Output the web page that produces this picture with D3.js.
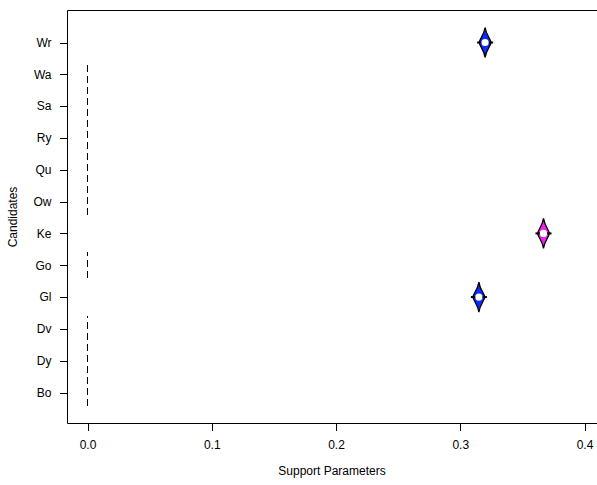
<!DOCTYPE html>
<html>
<head>
<meta charset="utf-8">
<script src="https://cdn.jsdelivr.net/npm/d3@7"></script>
<style>
body{margin:0;background:#fff;}
text{font-family:"Liberation Sans",Arial,Helvetica,sans-serif;}
</style>
</head>
<body>
<script>
// candidates from bottom to top
var candidates = ["Bo","Dy","Dv","Gl","Go","Ke","Ow","Qu","Ry","Sa","Wa","Wr"]
var support = [0,0,0,0.315,0,0.367,0,0,0,0,0,0.320]
var groupColor = ["none","none","none","blue","none","magenta","none","none","none","none","none","blue"]
var xTicks = [0,0.1,0.2,0.3,0.4]

var width = 597, height = 485
var svg = d3.select("body").append("svg")
	.attr("width", width)
	.attr("height", height)

var x = d3.scaleLinear().domain([0,0.4]).range([87.5,584.5])
var y = d3.scalePoint().domain(candidates).range([392.5,42.5])
var step = y.step()
var colors = {blue:"#0a2dff", magenta:"#ee22ee"}

// frame (right side runs off the page)
svg.append("path")
	.attr("d","M599,10.5 H67.5 V423.5 H599")
	.attr("fill","none")
	.attr("stroke","#000")
	.attr("stroke-width",1)

// x axis
var xAxis = svg.append("g")
	.attr("transform","translate(0,423.5)")
	.call(d3.axisBottom(x).tickValues(xTicks).tickFormat(d3.format(".1f")).tickSizeOuter(0).tickSizeInner(7).tickPadding(10))
xAxis.select(".domain").remove()
xAxis.selectAll("text").attr("font-size","12px").attr("fill","#000").attr("font-family","Liberation Sans, Arial, sans-serif")
xAxis.selectAll("line").attr("shape-rendering","crispEdges")

// y axis
var yAxis = svg.append("g")
	.attr("transform","translate(67.5,0)")
	.call(d3.axisLeft(y).tickSizeOuter(0).tickSizeInner(8).tickPadding(8))
yAxis.select(".domain").remove()
yAxis.selectAll("text").attr("font-size","12px").attr("fill","#000").attr("font-family","Liberation Sans, Arial, sans-serif")
yAxis.selectAll("line").attr("shape-rendering","crispEdges")

// axis titles
svg.append("text")
	.attr("x",332).attr("y",475)
	.attr("text-anchor","middle")
	.attr("font-size","12px")
	.text("Support Parameters")
svg.append("text")
	.attr("transform","translate(17,217) rotate(-90)")
	.attr("text-anchor","middle")
	.attr("font-size","12px")
	.text("Candidates")

// dashed segments for runs of zero support
var runs = []
var cur = null
for (var i=0;i<candidates.length;i++){
	if (support[i] == 0){
		if (cur == null){ cur = {from:i,to:i} }
		else { cur.to = i }
	} else {
		if (cur != null){ runs.push(cur); cur = null }
	}
}
if (cur != null) runs.push(cur)

svg.selectAll(".zero")
	.data(runs)
	.enter().append("line")
		.attr("class","zero")
		.attr("x1",x(0)).attr("x2",x(0))
		.attr("y1",function(d){return y(candidates[d.from]) + step*0.41})
		.attr("y2",function(d){return y(candidates[d.to]) - step*0.41})
		.attr("stroke","#000")
		.attr("stroke-width",1)
		.attr("stroke-dasharray","7,4")
		.attr("shape-rendering","crispEdges")

// diamonds for non zero support
var pts = []
for (var i=0;i<candidates.length;i++){
	if (support[i] > 0) pts.push({c:candidates[i], v:support[i], col:groupColor[i]})
}
var shape = "M0,-15 C1,-8 5,-4 6,0 C5,4 1,8 0,15 C-1,8 -5,4 -6,0 C-5,-4 -1,-8 0,-15Z"
var g = svg.selectAll(".pt")
	.data(pts)
	.enter().append("g")
		.attr("class","pt")
		.attr("transform",function(d){return "translate("+x(d.v)+","+y(d.c)+")"})
g.append("path")
	.attr("d",shape)
	.attr("fill",function(d){return colors[d.col]})
	.attr("stroke","#000")
	.attr("stroke-width",1.3)
g.append("line")
	.attr("x1",-8).attr("x2",8)
	.attr("y1",0).attr("y2",0)
	.attr("stroke","#000")
	.attr("stroke-width",2)
g.append("circle")
	.attr("r",3.6)
	.attr("fill","#fff")
</script>
</body>
</html>
